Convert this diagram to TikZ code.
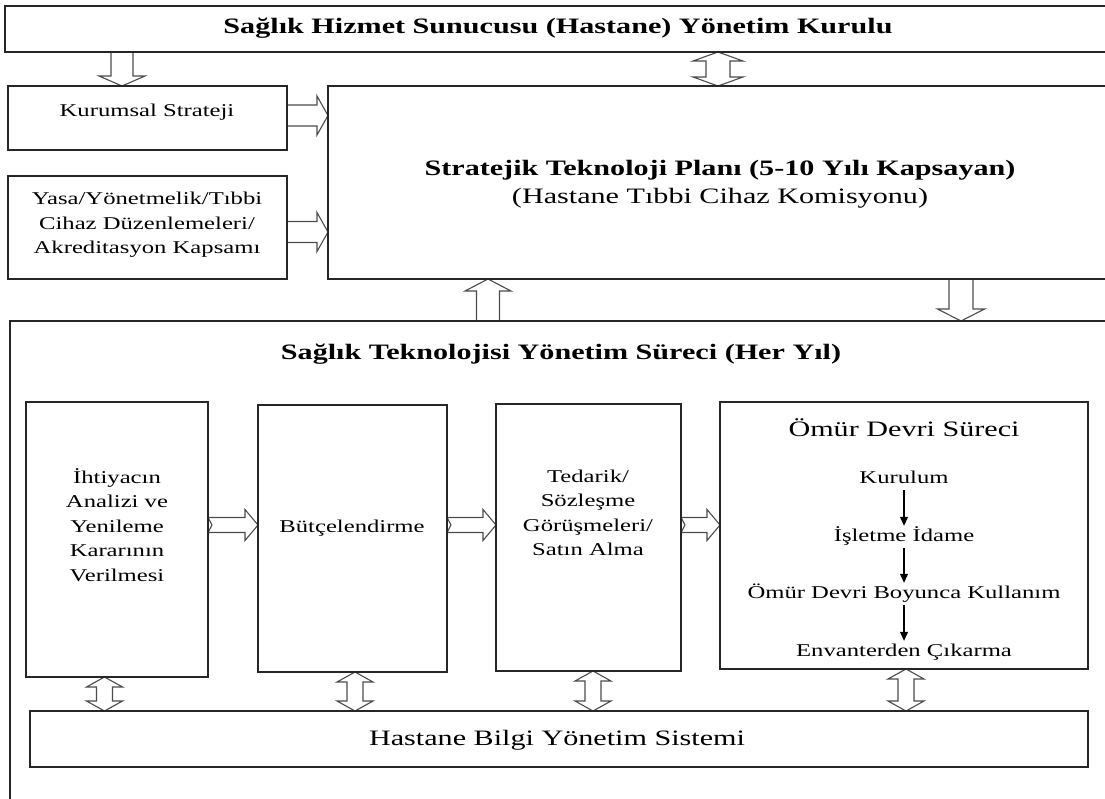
\documentclass[tikz,border=0pt]{standalone}
\usepackage{fontspec}
\setmainfont{Liberation Serif}[FakeStretch=1.37]
\usetikzlibrary{calc,arrows.meta}
\pgfdeclarelayer{bg}
\pgfsetlayers{bg,main}
% right block arrow: #1 from node, #2 to node, #3 y(px), #4 shaft half, #5 head half, #6 head length, #7 notch
\newcommand\RArr[7]{%
  \draw[blk] let \p1=(#1.east), \p2=(#2.west) in
    (\x1,{(-#3+#4)*1pt}) -- ({\x2-#6*1pt},{(-#3+#4)*1pt}) -- ({\x2-#6*1pt},{(-#3+#5)*1pt})
    -- (\x2,{-#3*1pt}) -- ({\x2-#6*1pt},{(-#3-#5)*1pt}) -- ({\x2-#6*1pt},{(-#3-#4)*1pt})
    -- (\x1,{(-#3-#4)*1pt}) -- ({\x1+#7*1pt},{-#3*1pt}) -- cycle;}
% down block arrow: #1 upper node, #2 lower node, #3 x, #4 shaft half, #5 head half, #6 head length
\newcommand\DArr[6]{%
  \draw[blk] let \p1=(#1.south), \p2=(#2.north) in
    ({(#3-#4)*1pt},\y1) -- ({(#3-#4)*1pt},{\y2+#6*1pt}) -- ({(#3-#5)*1pt},{\y2+#6*1pt})
    -- ({#3*1pt},\y2) -- ({(#3+#5)*1pt},{\y2+#6*1pt}) -- ({(#3+#4)*1pt},{\y2+#6*1pt})
    -- ({(#3+#4)*1pt},\y1) -- cycle;}
% up block arrow: #1 lower node, #2 upper node
\newcommand\UArr[6]{%
  \draw[blk] let \p1=(#1.north), \p2=(#2.south) in
    ({(#3-#4)*1pt},\y1) -- ({(#3-#4)*1pt},{\y2-#6*1pt}) -- ({(#3-#5)*1pt},{\y2-#6*1pt})
    -- ({#3*1pt},\y2) -- ({(#3+#5)*1pt},{\y2-#6*1pt}) -- ({(#3+#4)*1pt},{\y2-#6*1pt})
    -- ({(#3+#4)*1pt},\y1) -- cycle;}
% double vertical block arrow: #1 upper node, #2 lower node
\newcommand\VDArr[6]{%
  \draw[blk] let \p1=(#1.south), \p2=(#2.north) in
    ({#3*1pt},\y1) -- ({(#3+#5)*1pt},{\y1-#6*1pt}) -- ({(#3+#4)*1pt},{\y1-#6*1pt})
    -- ({(#3+#4)*1pt},{\y2+#6*1pt}) -- ({(#3+#5)*1pt},{\y2+#6*1pt}) -- ({#3*1pt},\y2)
    -- ({(#3-#5)*1pt},{\y2+#6*1pt}) -- ({(#3-#4)*1pt},{\y2+#6*1pt})
    -- ({(#3-#4)*1pt},{\y1-#6*1pt}) -- ({(#3-#5)*1pt},{\y1-#6*1pt}) -- cycle;}
\begin{document}
\begin{tikzpicture}[x=1pt,y=1pt,
  box/.style={draw=black!85, line width=1.3pt, inner sep=0pt, outer sep=0pt, anchor=north west},
  blk/.style={draw=black!70, line width=1.1pt, fill=white, line join=miter},
  big/.style={font=\fontsize{22}{28}\selectfont, align=center, inner sep=1pt},
  bigb/.style={font=\bfseries\fontsize{22}{28}\selectfont, align=center, inner sep=1pt},
  sml/.style={font=\fontsize{18}{24.5}\selectfont, align=center, inner sep=1pt},
  item/.style={font=\fontsize{18}{22}\selectfont, inner sep=1pt, text height=12pt, text depth=4pt},
  flow/.style={-{Triangle[length=9pt,width=8pt]}, line width=1.1pt, draw=black, shorten <=2pt, shorten >=2pt}]
\useasboundingbox (0,0) rectangle (1105,-798);
\begin{scope}
\clip (0,0) rectangle (1105,-798);
\node[box, minimum width=1110pt, minimum height=46pt] (top) at (5,-6) {};
\node[box, minimum width=279pt, minimum height=64pt] (kur) at (8,-86) {};
\node[box, minimum width=279pt, minimum height=103pt] (yasa) at (8,-176) {};
\node[box, minimum width=787pt, minimum height=193pt] (sp) at (328,-86) {};
\node[box, minimum width=1105pt, minimum height=489pt] (bigbox) at (10,-321) {};
\node[box, minimum width=182pt, minimum height=275pt] (b1) at (26,-402) {};
\node[box, minimum width=189pt, minimum height=267pt] (b2) at (258,-405) {};
\node[box, minimum width=185pt, minimum height=267pt] (b3) at (496,-404) {};
\node[box, minimum width=368pt, minimum height=267pt] (b4) at (720,-402) {};
\node[box, minimum width=1058pt, minimum height=56pt] (hb) at (30,-711) {};

\node[bigb] (toptxt) at (558,-28) {Sağlık Hizmet Sunucusu (Hastane) Yönetim Kurulu};
\node[sml] (kurtxt) at (147,-112) {Kurumsal Strateji};
\node[sml] (yasatxt) at (147,-225) {Yasa/Yönetmelik/Tıbbi\\Cihaz Düzenlemeleri/\\Akreditasyon Kapsamı};
\node[big] (sptxt) at (720,-184) {\textbf{Stratejik Teknoloji Planı (5-10 Yılı Kapsayan)}\\(Hastane Tıbbi Cihaz Komisyonu)};
\node[bigb] (bigtxt) at (561,-354) {Sağlık Teknolojisi Yönetim Süreci (Her Yıl)};
\node[sml] (b1txt) at (117,-525) {İhtiyacın\\Analizi ve\\Yenileme\\Kararının\\Verilmesi};
\node[sml] (b2txt) at (352,-528) {Bütçelendirme};
\node[sml] (b3txt) at (588,-513) {Tedarik/\\Sözleşme\\Görüşmeleri/\\Satın Alma};
\node[big] (b4txt) at (904,-428) {Ömür Devri Süreci};
\node[item] (i1) at (904,-479) {Kurulum};
\node[item] (i2) at (904,-537) {İşletme İdame};
\node[item] (i3) at (904,-594) {Ömür Devri Boyunca Kullanım};
\node[item] (i4) at (904,-652) {Envanterden Çıkarma};
\node[big] (hbtxt) at (557,-740) {Hastane Bilgi Yönetim Sistemi};

\draw[flow] (i1) -- (i2);
\draw[flow] (i2) -- (i3);
\draw[flow] (i3) -- (i4);

\begin{pgfonlayer}{bg}
\DArr{top}{kur}{122}{11}{23}{10}
\VDArr{top}{sp}{718}{12}{25}{9}
\RArr{kur}{sp}{115.5}{10.5}{19.5}{11}{0}
\RArr{yasa}{sp}{232}{10.5}{19.5}{11}{0}
\UArr{bigbox}{sp}{488}{11.5}{23}{12}
\DArr{sp}{bigbox}{961}{12}{23.5}{12}
\RArr{b1}{b2}{525}{7.5}{15.5}{13}{4}
\RArr{b2}{b3}{525}{7.5}{15.5}{13}{4}
\RArr{b3}{b4}{525}{7.5}{15.5}{13}{4}
\VDArr{b1}{hb}{104.5}{8}{18}{10}
\VDArr{b2}{hb}{355}{8}{18}{10}
\VDArr{b3}{hb}{593}{8}{18}{10}
\VDArr{b4}{hb}{906}{8}{18}{10}
\end{pgfonlayer}
\end{scope}
\end{tikzpicture}
\end{document}
